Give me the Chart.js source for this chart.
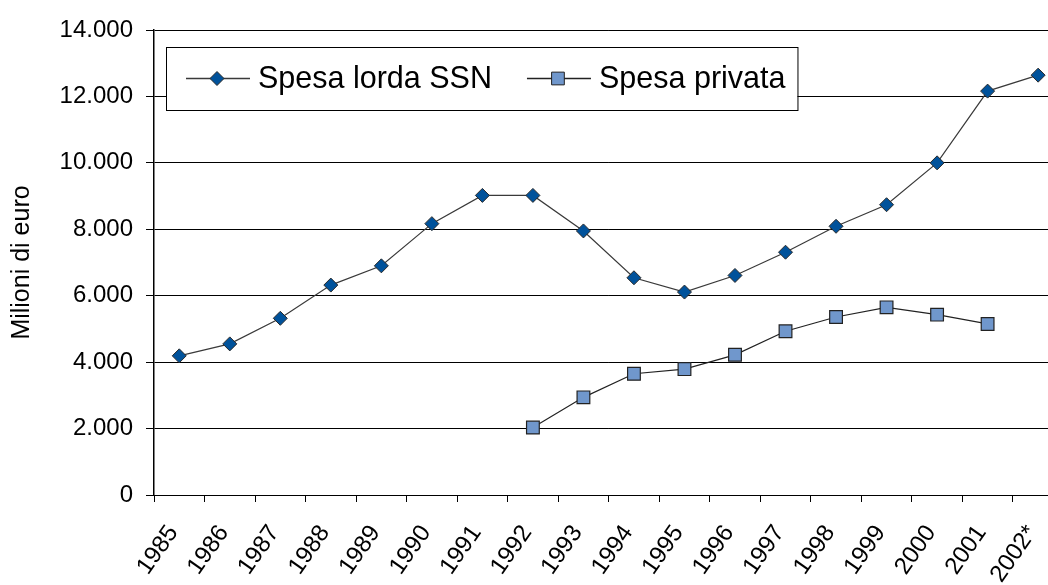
<!DOCTYPE html>
<html>
<head>
<meta charset="utf-8">
<script src="https://cdn.jsdelivr.net/npm/chart.js@4/dist/chart.umd.min.js"></script>
<style>
  html, body { margin: 0; padding: 0; background: #fff; overflow: hidden; }
  #wrap { width: 1048px; height: 585px; overflow: hidden; }
</style>
</head>
<body>
<div id="wrap"><canvas id="chart" width="1080" height="585"></canvas></div>
<script>
// anni (2002 stimato)
const years = ['1985', '1986', '1987', '1988', '1989', '1990', '1991', '1992', '1993',
  '1994', '1995', '1996', '1997', '1998', '1999', '2000', '2001', '2002*'];
// milioni di euro
const spesaSSN = [4190, 4550, 5320, 6320, 6900, 8170, 9020, 9020, 7950,
  6540, 6110, 6610, 7310, 8090, 8740, 10000, 12160, 12640];
const spesaPrivata = [null, null, null, null, null, null, null, 2030, 2940,
  3650, 3790, 4220, 4930, 5360, 5650, 5430, 5150, null];
const yTickLabels = ['0', '2.000', '4.000', '6.000', '8.000', '10.000', '12.000', '14.000'];

const FONT = "'Liberation Sans', Arial, sans-serif";

// legenda dentro l'area del grafico, con riquadro bianco
const boxLegend = {
  id: 'boxLegend',
  afterDatasetsDraw(chart) {
    const ctx = chart.ctx;
    const area = chart.chartArea;
    const x0 = area.left + 12, y0 = area.top + 17;
    const h = 63, cy = y0 + h / 2;
    const gap = 35;
    ctx.save();
    ctx.font = '30.5px ' + FONT;
    let x = x0 + 20;
    const items = chart.data.datasets;
    const widths = items.map(ds => ctx.measureText(ds.label).width);
    const total = items.reduce((s, ds, i) => s + 64 + 8 + widths[i], 0) + gap * (items.length - 1) + 20 + 12;
    ctx.fillStyle = '#fff';
    ctx.fillRect(x0, y0, total, h);
    ctx.strokeStyle = '#000';
    ctx.lineWidth = 1;
    ctx.strokeRect(x0 + 0.5, y0 + 0.5, total, h);
    items.forEach((ds, i) => {
      ctx.strokeStyle = ds.borderColor;
      ctx.lineWidth = 1.5;
      ctx.beginPath();
      ctx.moveTo(x, cy);
      ctx.lineTo(x + 64, cy);
      ctx.stroke();
      const mx = x + 31;
      ctx.fillStyle = ds.pointBackgroundColor;
      ctx.strokeStyle = ds.pointBorderColor;
      ctx.lineWidth = 1;
      ctx.beginPath();
      if (ds.pointStyle === 'rectRot') {
        const r = ds.pointRadius;
        ctx.moveTo(mx, cy - r);
        ctx.lineTo(mx + r, cy);
        ctx.lineTo(mx, cy + r);
        ctx.lineTo(mx - r, cy);
        ctx.closePath();
      } else {
        const s = ds.pointRadius * Math.SQRT1_2;
        ctx.rect(mx - s, cy - s, 2 * s, 2 * s);
      }
      ctx.fill();
      ctx.stroke();
      ctx.fillStyle = '#000';
      ctx.textBaseline = 'middle';
      ctx.fillText(ds.label, x + 72, cy + 1);
      x += 64 + 8 + widths[i] + gap;
    });
    ctx.restore();
  }
};

new Chart(document.getElementById('chart'), {
  type: 'line',
  data: {
    labels: years,
    datasets: [{
      label: 'Spesa lorda SSN',
      data: spesaSSN,
      borderColor: '#3a3a3a',
      borderWidth: 1.2,
      pointStyle: 'rectRot',
      pointRadius: 7,
      pointBackgroundColor: '#00529B',
      pointBorderColor: '#2a2a2a',
      pointBorderWidth: 1,
      tension: 0
    }, {
      label: 'Spesa privata',
      data: spesaPrivata,
      borderColor: '#222',
      borderWidth: 1.2,
      pointStyle: 'rect',
      pointRadius: 9,
      pointBackgroundColor: '#7097CC',
      pointBorderColor: '#222',
      pointBorderWidth: 1.2,
      spanGaps: false,
      tension: 0
    }]
  },
  options: {
    responsive: false,
    animation: false,
    layout: { padding: { top: 30, left: 0, right: 0, bottom: 0 } },
    plugins: {
      legend: { display: false },
      tooltip: { enabled: false }
    },
    scales: {
      x: {
        offset: true,
        grid: { drawOnChartArea: false, drawTicks: true, tickLength: 7, color: '#000', offset: true },
        border: { color: '#000', width: 1 },
        ticks: {
          color: '#000',
          font: { family: FONT, size: 24 },
          minRotation: 55,
          maxRotation: 55,
          padding: 18,
          labelOffset: -6,
          autoSkip: false
        },
        afterFit(scale) { scale.height = 90; }
      },
      y: {
        min: 0,
        max: 14000,
        grid: { color: '#000', lineWidth: 1, tickLength: 8 },
        border: { color: '#000', width: 1.5 },
        ticks: {
          stepSize: 2000,
          color: '#000',
          padding: 13,
          font: { family: FONT, size: 24 },
          callback: v => yTickLabels[Math.round(v / 2000)]
        },
        title: {
          display: true,
          text: 'Milioni di euro',
          color: '#000',
          font: { family: FONT, size: 25 },
          padding: { top: 7, bottom: 0 }
        },
        afterFit(scale) { scale.width = 154; }
      }
    }
  },
  plugins: [boxLegend]
});
</script>
</body>
</html>
